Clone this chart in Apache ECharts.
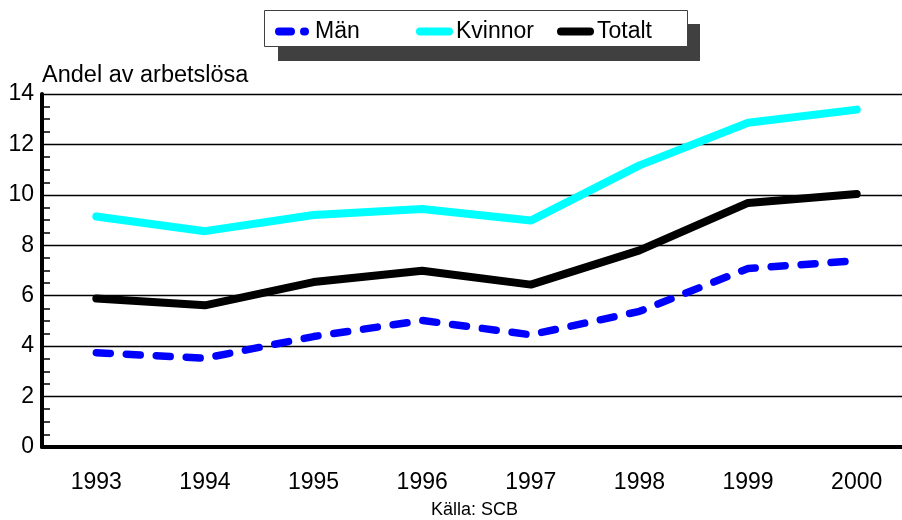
<!DOCTYPE html>
<html>
<head>
<meta charset="utf-8">
<script src="https://cdn.jsdelivr.net/npm/echarts@6/dist/echarts.min.js"></script>
<style>
  html, body { margin: 0; padding: 0; background: #fff; overflow: hidden; }
  #chart { width: 920px; height: 520px; }
</style>
</head>
<body>
<div id="chart"></div>
<script>
  // andel arbetslösa, 1993-2000
  var years = ['1993', '1994', '1995', '1996', '1997', '1998', '1999', '2000']
  var man = [3.74, 3.52, 4.38, 5.02, 4.45, 5.38, 7.08, 7.39]
  var kvinnor = [9.14, 8.56, 9.2, 9.44, 8.98, 11.17, 12.86, 13.38]
  var totalt = [5.89, 5.62, 6.54, 6.99, 6.44, 7.8, 9.68, 10.03]

  var font = 'Liberation Sans, Arial, sans-serif'
  var myChart = echarts.init(document.getElementById('chart'))

  // one legend per item so the spacing can follow the original box
  function legendAt (name, x, w, pad, dash) {
    return {
      left: x,
      top: 20,
      padding: 0,
      itemWidth: w,
      itemHeight: 24,
      data: [name],
      itemStyle: { opacity: 0 },
      lineStyle: { width: 8, cap: 'round', type: dash || 'solid' },
      textStyle: { fontSize: 23, color: '#000', fontFamily: font, padding: [0, 0, 0, pad] }
    }
  }

  myChart.setOption({
    animation: false,
    textStyle: { fontFamily: font },
    graphic: [
      // legend shadow + box
      { type: 'rect', z: 0, shape: { x: 278, y: 24, width: 422, height: 37 }, style: { fill: '#404040' } },
      { type: 'rect', z: 1, shape: { x: 264.5, y: 10.5, width: 423, height: 36 }, style: { fill: '#fff', stroke: '#404040', lineWidth: 1 } },
      { type: 'text', left: 431, top: 501, style: { text: 'Källa: SCB', font: '18px ' + font, fill: '#000' } }
    ],
    legend: [
      legendAt('Män', 275, 26, 5, [12, 13]),
      legendAt('Kvinnor', 416, 29, 2),
      legendAt('Totalt', 557, 29, 2)
    ],
    grid: { left: 42, top: 94, bottom: 73, width: 869 },
    xAxis: {
      type: 'category',
      data: years,
      axisLine: { lineStyle: { color: '#000', width: 4 } },
      axisTick: { inside: true, length: 10, alignWithLabel: true, lineStyle: { color: '#000', width: 1 } },
      axisLabel: { fontSize: 23, color: '#000', margin: 24 }
    },
    yAxis: {
      type: 'value',
      min: 0,
      max: 14,
      interval: 2,
      name: 'Andel av arbetslösa',
      nameLocation: 'end',
      nameGap: 6,
      nameTextStyle: { align: 'left', fontSize: 23.5, color: '#000', fontFamily: font },
      axisLine: { show: true, lineStyle: { color: '#000', width: 4 } },
      axisTick: { show: false },
      minorTick: { show: true, splitNumber: 4, length: -8, lineStyle: { color: '#000', width: 1.5 } },
      axisLabel: { fontSize: 23, color: '#000', margin: 8 },
      splitLine: { lineStyle: { color: '#000', width: 1.3 } }
    },
    series: [
      {
        name: 'Män', type: 'line', data: man, symbol: 'none', z: 3,
        lineStyle: { color: '#0000ff', width: 7.5, type: [14, 16], cap: 'round' },
        itemStyle: { color: '#0000ff' }
      },
      {
        name: 'Kvinnor', type: 'line', data: kvinnor, symbol: 'none', z: 3,
        lineStyle: { color: '#00ffff', width: 8, cap: 'round' },
        itemStyle: { color: '#00ffff' }
      },
      {
        name: 'Totalt', type: 'line', data: totalt, symbol: 'none', z: 3,
        lineStyle: { color: '#000', width: 8, cap: 'round' },
        itemStyle: { color: '#000' }
      }
    ]
  })
</script>
</body>
</html>
